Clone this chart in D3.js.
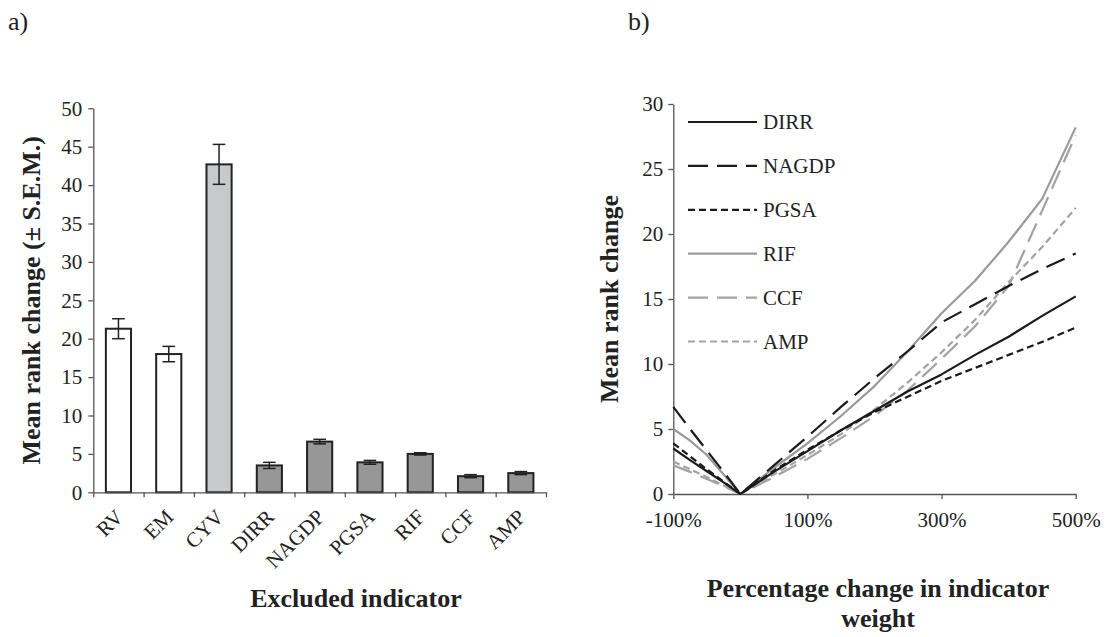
<!DOCTYPE html>
<html>
<head>
<meta charset="utf-8">
<script src="https://cdn.jsdelivr.net/npm/d3@7/dist/d3.min.js"></script>
<style>
  html, body { margin: 0; padding: 0; background: #fff; }
  svg { display: block; font-family: "Liberation Serif", "Times New Roman", serif; }
  .axis path, .axis line { stroke: #555; stroke-width: 1.3; }
  .axis text { fill: #222; font-size: 21px; font-family: "Liberation Serif", "Times New Roman", serif; }
</style>
</head>
<body>
<svg id="chart" width="1109" height="637"></svg>
<script>
// ---- Panel a: mean rank change when one indicator is excluded ----
const indicators = ["RV", "EM", "CYV", "DIRR", "NAGDP", "PGSA", "RIF", "CCF", "AMP"];
const meanRankChange = [21.3, 18.0, 42.7, 3.5, 6.6, 3.9, 5.0, 2.1, 2.5];
const semRankChange = [1.3, 1.0, 2.6, 0.4, 0.3, 0.25, 0.15, 0.2, 0.2];
const indicatorGroup = ["g1", "g1", "g2", "g3", "g3", "g3", "g3", "g3", "g3"];
const yTicksA = [0, 5, 10, 15, 20, 25, 30, 35, 40, 45, 50];

// ---- Panel b: mean rank change vs. percentage change in indicator weight ----
const weightChange = [-100, -75, -50, -25, 0, 50, 100, 150, 200, 250, 300, 350, 400, 450, 500];
const seriesNames = ["DIRR", "NAGDP", "PGSA", "RIF", "CCF", "AMP"];
const dirr  = [3.5, 2.6, 1.75, 0.9, 0, 1.7, 3.3, 4.9, 6.4, 7.9, 9.2, 10.7, 12.1, 13.7, 15.2];
const nagdp = [6.7, 5.0, 3.35, 1.7, 0, 2.2, 4.4, 6.7, 8.9, 11.0, 13.2, 14.6, 16.0, 17.3, 18.5];
const pgsa  = [3.9, 2.9, 1.9, 0.95, 0, 1.8, 3.4, 4.9, 6.3, 7.5, 8.7, 9.7, 10.7, 11.7, 12.8];
const rif   = [5.0, 4.1, 3.0, 1.5, 0, 2.0, 3.9, 6.0, 8.3, 11.0, 13.9, 16.4, 19.4, 22.7, 28.2];
const ccf   = [2.2, 1.7, 1.15, 0.6, 0, 1.3, 2.7, 4.3, 6.0, 8.0, 10.4, 12.9, 16.0, 21.8, 27.6];
const amp   = [2.5, 1.9, 1.3, 0.65, 0, 1.5, 3.0, 4.6, 6.5, 8.6, 10.9, 13.4, 16.3, 19.0, 22.0];
const xTicksB = [-100, 100, 300, 500];
const yTicksB = [0, 5, 10, 15, 20, 25, 30];

const svg = d3.select("#chart");
const ink = "#222";

// ================= Panel a =================
const a = { left: 93.3, right: 546, top: 108.3, bottom: 492.3 };
const xA = d3.scaleBand().domain(indicators).range([a.left, a.right])
  .paddingInner(0.5).paddingOuter(0.25);
const xEdges = d3.scaleLinear().domain([0, indicators.length]).range([a.left, a.right]);
const yA = d3.scaleLinear().domain([0, 50]).range([a.bottom, a.top]);
const fillA = d3.scaleOrdinal().domain(["g1", "g2", "g3"]).range(["#ffffff", "#c8c9cb", "#979797"]);

const gA = svg.append("g");

gA.append("g").attr("class", "axis")
  .attr("transform", `translate(${a.left},0)`)
  .call(d3.axisLeft(yA).tickValues(yTicksA).tickSize(5).tickPadding(6).tickSizeOuter(0));

const barData = indicators.map((k, i) => ({ k, m: meanRankChange[i], s: semRankChange[i], g: indicatorGroup[i] }));

gA.selectAll("rect.bar").data(barData).enter().append("rect")
  .attr("class", "bar")
  .attr("x", d => xA(d.k))
  .attr("width", xA.bandwidth())
  .attr("y", d => yA(d.m))
  .attr("height", d => yA(0) - yA(d.m))
  .attr("fill", d => fillA(d.g))
  .attr("stroke", ink)
  .attr("stroke-width", 2);

// error bars (± S.E.M.)
const cap = 6.3;
const eb = gA.selectAll("g.err").data(barData).enter().append("g").attr("class", "err")
  .attr("stroke", ink).attr("stroke-width", 1.5);
eb.append("line")
  .attr("x1", d => xA(d.k) + xA.bandwidth() / 2).attr("x2", d => xA(d.k) + xA.bandwidth() / 2)
  .attr("y1", d => yA(d.m - d.s)).attr("y2", d => yA(d.m + d.s));
eb.append("line")
  .attr("x1", d => xA(d.k) + xA.bandwidth() / 2 - cap).attr("x2", d => xA(d.k) + xA.bandwidth() / 2 + cap)
  .attr("y1", d => yA(d.m + d.s)).attr("y2", d => yA(d.m + d.s));
eb.append("line")
  .attr("x1", d => xA(d.k) + xA.bandwidth() / 2 - cap).attr("x2", d => xA(d.k) + xA.bandwidth() / 2 + cap)
  .attr("y1", d => yA(d.m - d.s)).attr("y2", d => yA(d.m - d.s));

// category axis with ticks between categories
gA.append("g").attr("class", "axis")
  .attr("transform", `translate(0,${a.bottom})`)
  .call(d3.axisBottom(xEdges).tickValues(d3.range(indicators.length + 1)).tickFormat("").tickSize(5).tickSizeOuter(0));

gA.selectAll("text.cat").data(indicators).enter().append("text")
  .attr("class", "cat")
  .attr("transform", d => `translate(${xA(d) + xA.bandwidth() / 2 + 6},${a.bottom + 26}) rotate(-45)`)
  .attr("text-anchor", "end")
  .attr("font-size", 21)
  .attr("fill", ink)
  .text(d => d);

gA.append("text")
  .attr("x", 356).attr("y", 607)
  .attr("text-anchor", "middle")
  .attr("font-size", 26).attr("font-weight", "bold").attr("fill", ink)
  .text("Excluded indicator");

gA.append("text")
  .attr("transform", `translate(40,${(a.top + a.bottom) / 2}) rotate(-90)`)
  .attr("text-anchor", "middle")
  .attr("font-size", 26).attr("font-weight", "bold").attr("fill", ink)
  .text("Mean rank change (± S.E.M.)");

svg.append("text").attr("x", 8).attr("y", 30)
  .attr("font-size", 26).attr("fill", ink).text("a)");

// ================= Panel b =================
const b = { left: 673.3, right: 1075.7, top: 104, bottom: 494 };
const xB = d3.scaleLinear().domain([-100, 500]).range([b.left, b.right]);
const yB = d3.scaleLinear().domain([0, 30]).range([b.bottom, b.top]);

const gB = svg.append("g");

gB.append("g").attr("class", "axis")
  .attr("transform", `translate(${b.left},0)`)
  .call(d3.axisLeft(yB).tickValues(yTicksB).tickSize(5).tickPadding(5).tickSizeOuter(0));

gB.append("g").attr("class", "axis")
  .attr("transform", `translate(0,${b.bottom})`)
  .call(d3.axisBottom(xB).tickValues(xTicksB).tickFormat(d => d + "%").tickSize(5).tickPadding(13).tickSizeOuter(0));

const styles = {
  DIRR:  { color: "#1b1b1b", dash: null },
  NAGDP: { color: "#1b1b1b", dash: "20,9" },
  PGSA:  { color: "#1b1b1b", dash: "7,4" },
  RIF:   { color: "#9a9a9a", dash: null },
  CCF:   { color: "#a3a3a3", dash: "20,9" },
  AMP:   { color: "#a3a3a3", dash: "7,4" }
};
const seriesValues = { DIRR: dirr, NAGDP: nagdp, PGSA: pgsa, RIF: rif, CCF: ccf, AMP: amp };

const line = d3.line().x(d => xB(d[0])).y(d => yB(d[1]));

// draw grey series first so the black ones sit on top
const drawOrder = ["RIF", "CCF", "AMP", "DIRR", "NAGDP", "PGSA"];
drawOrder.forEach(name => {
  const pts = weightChange.map((w, i) => [w, seriesValues[name][i]]);
  gB.append("path")
    .datum(pts)
    .attr("d", line)
    .attr("fill", "none")
    .attr("stroke", styles[name].color)
    .attr("stroke-width", 2.2)
    .attr("stroke-dasharray", styles[name].dash)
    .attr("stroke-linejoin", "round");
});

// legend
const leg = gB.append("g");
seriesNames.forEach((name, i) => {
  const y = 122 + i * 43.9;
  leg.append("line")
    .attr("x1", 688).attr("x2", 757).attr("y1", y).attr("y2", y)
    .attr("stroke", styles[name].color).attr("stroke-width", 2.2)
    .attr("stroke-dasharray", styles[name].dash);
  leg.append("text")
    .attr("x", 763).attr("y", y + 7)
    .attr("font-size", 21).attr("fill", ink)
    .text(name);
});

gB.append("text")
  .attr("transform", `translate(618,${(b.top + b.bottom) / 2}) rotate(-90)`)
  .attr("text-anchor", "middle")
  .attr("font-size", 26).attr("font-weight", "bold").attr("fill", ink)
  .text("Mean rank change");

const xTitle = gB.append("text")
  .attr("text-anchor", "middle")
  .attr("font-size", 26).attr("font-weight", "bold").attr("fill", ink);
xTitle.append("tspan").attr("x", 878).attr("y", 597).text("Percentage change in indicator");
xTitle.append("tspan").attr("x", 878).attr("y", 627).text("weight");

svg.append("text").attr("x", 628).attr("y", 30)
  .attr("font-size", 26).attr("fill", ink).text("b)");
</script>
</body>
</html>
